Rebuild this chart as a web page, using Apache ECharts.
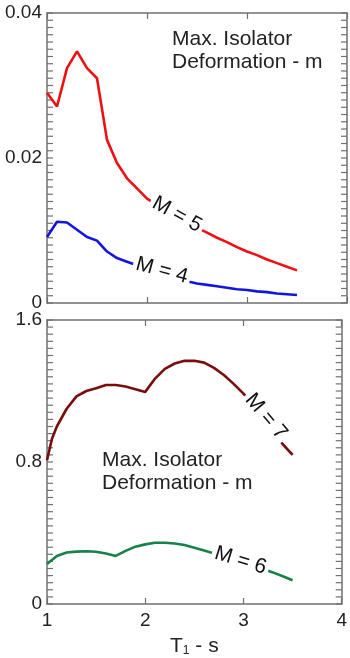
<!DOCTYPE html>
<html>
<head>
<meta charset="utf-8">
<script src="https://cdn.jsdelivr.net/npm/echarts@6/dist/echarts.min.js"></script>
<style>
html,body{margin:0;padding:0;background:#fff;}
#chart{width:350px;height:658px;}
</style>
</head>
<body>
<div id="chart"></div>
<script>
// ---- data ----
const xTicks = [1, 2, 3, 4];
const topTicks = [0, 0.02, 0.04];
const botTicks = [0, 0.8, 1.6];

const T5 = [1.0,1.1,1.2,1.3,1.4,1.5,1.6,1.7,1.8,1.9,2.0,2.1,2.2,2.3,2.4,2.5,2.6,2.7,2.8,2.9,3.0,3.1,3.2,3.3,3.4,3.5];
const m5 = [0.0290,0.0271,0.0324,0.0347,0.0324,0.0310,0.0225,0.0193,0.0172,0.0158,0.0144,0.0135,0.0126,0.0118,0.0111,0.0104,0.0097,0.0090,0.0084,0.0077,0.0071,0.0066,0.0060,0.0055,0.0050,0.0045];

const T4 = [1.0,1.1,1.2,1.3,1.4,1.5,1.6,1.7,1.8,1.9,2.0,2.1,2.2,2.3,2.4,2.5,2.6,2.7,2.8,2.9,3.0,3.1,3.2,3.3,3.4,3.5];
const m4 = [0.0091,0.0112,0.0111,0.0101,0.0091,0.0086,0.0071,0.0062,0.0057,0.0052,0.0047,0.0042,0.0037,0.0033,0.0030,0.0027,0.0025,0.0023,0.0021,0.0019,0.0018,0.0016,0.0015,0.0013,0.0012,0.0011];

const T7 = [1.0,1.05,1.1,1.2,1.3,1.4,1.5,1.6,1.7,1.8,1.9,2.0,2.1,2.2,2.3,2.4,2.5,2.6,2.7,2.8,2.9,3.0,3.1,3.2,3.3,3.4,3.5];
const m7 = [0.81,0.93,1.00,1.10,1.17,1.20,1.215,1.234,1.234,1.225,1.21,1.195,1.27,1.325,1.355,1.37,1.37,1.36,1.33,1.29,1.24,1.185,1.12,1.05,0.97,0.90,0.84];

const T6 = [1.0,1.1,1.2,1.3,1.4,1.5,1.6,1.7,1.8,1.9,2.0,2.1,2.2,2.3,2.4,2.5,2.6,2.7,2.8,2.9,3.0,3.1,3.2,3.3,3.4,3.5];
const m6 = [0.226,0.271,0.290,0.295,0.297,0.294,0.284,0.271,0.299,0.323,0.336,0.345,0.345,0.341,0.332,0.317,0.301,0.285,0.265,0.245,0.228,0.212,0.197,0.178,0.156,0.134];

const seriesNames = ['M = 5', 'M = 4', 'M = 7', 'M = 6'];
const panelTitle = 'Max. Isolator\nDeformation - m';
const xName = 'T{sub|1} - s';

// minor tick counts per panel (20 minor divisions per labelled interval)
const topMinorStep = 0.001, topMinorCount = 40;
const botMinorStep = 0.04, botMinorCount = 40;

// ---- chart ----
const FONT = '"Liberation Sans", Arial, sans-serif';
const AX = '#707070';
const pairs = (xs, ys) => xs.map((x, i) => [x, ys[i]]);
const near = (v, list, tol) => list.find(t => Math.abs(v - t) < tol);

function xAx(grid, pos, labels) {
  return {
    type: 'value', gridIndex: grid, position: pos, min: 1, max: 4, interval: 1,
    axisLine: { show: true, onZero: false, lineStyle: { color: AX, width: 1.5 } },
    axisTick: { show: true, inside: true, length: 6, lineStyle: { color: AX, width: 1.2 } },
    axisLabel: labels ? { show: true, color: '#222', fontSize: 19, fontFamily: FONT, margin: 7,
      formatter: v => xTicks.includes(v) ? String(v) : '' } : { show: false },
    splitLine: { show: false },
    name: labels ? xName : '', nameLocation: 'middle', nameGap: 32,
    nameTextStyle: { color: '#222', fontSize: 21, fontFamily: FONT,
      rich: { sub: { fontSize: 12, fontFamily: FONT, color: '#222', verticalAlign: 'bottom', padding: [9, 0, 0, 0] } } }
  };
}
function yAx(grid, pos, max, step, ticks, digits) {
  return {
    type: 'value', gridIndex: grid, position: pos, min: 0, max: max, interval: step,
    axisLine: { show: true, onZero: false, lineStyle: { color: AX, width: 1.5 } },
    axisTick: { show: false },
    axisLabel: ticks ? { show: true, color: '#222', fontSize: 19, fontFamily: FONT, margin: 5,
      formatter: v => { const t = near(v, ticks, step / 2); return t === undefined ? '' : (t === 0 ? '0' : t.toFixed(digits)); } }
      : { show: false },
    splitLine: { show: false }
  };
}
function lineSeries(name, xi, yi, xs, ys, color) {
  return { name, type: 'line', xAxisIndex: xi, yAxisIndex: yi, data: pairs(xs, ys),
    showSymbol: false, symbol: 'none', smooth: false,
    lineStyle: { color, width: 2.6 }, silent: true };
}
// inward minor ticks on both vertical frame edges, positioned by the y scale
function tickSeries(xi, yi, step, count) {
  const vals = [];
  for (let i = 0; i <= count; i++) vals.push([1, +(i * step).toFixed(6)]);
  return {
    type: 'custom', xAxisIndex: xi, yAxisIndex: yi, data: vals, silent: true, clip: false, z: 3,
    encode: { x: 0, y: 1 },
    renderItem: (params, api) => {
      const l = api.coord([1, api.value(1)]);
      const r = api.coord([4, api.value(1)]);
      const st = { stroke: AX, lineWidth: 1.2 };
      return { type: 'group', children: [
        { type: 'line', shape: { x1: l[0], y1: l[1], x2: l[0] + 6, y2: l[1] }, style: st },
        { type: 'line', shape: { x1: r[0] - 6, y1: r[1], x2: r[0], y2: r[1] }, style: st }
      ] };
    }
  };
}

const chart = echarts.init(document.getElementById('chart'), null, { renderer: 'canvas' });
chart.setOption({
  animation: false,
  backgroundColor: '#fff',
  grid: [
    { left: 47, top: 13, width: 300, height: 290 },
    { left: 47, top: 320, width: 300, height: 291 }
  ],
  xAxis: [ xAx(0, 'bottom', false), xAx(0, 'top', false), xAx(1, 'bottom', true), xAx(1, 'top', false) ],
  yAxis: [
    yAx(0, 'left', 0.04, 0.02, topTicks, 2),
    yAx(0, 'right', 0.04, 0.02, null),
    yAx(1, 'left', 1.6, 0.8, botTicks, 1),
    yAx(1, 'right', 1.6, 0.8, null)
  ],
  series: [
    tickSeries(0, 0, topMinorStep, topMinorCount),
    tickSeries(2, 2, botMinorStep, botMinorCount),
    lineSeries(seriesNames[0], 0, 0, T5, m5, '#ee1010'),
    lineSeries(seriesNames[1], 0, 0, T4, m4, '#1414e0'),
    lineSeries(seriesNames[2], 2, 2, T7, m7, '#7a0c0c'),
    lineSeries(seriesNames[3], 2, 2, T6, m6, '#17814a')
  ]
});

// line tags placed on the curves via the chart's own scales
function tag(text, finder, xs, ys, idx, deg, dx, dy) {
  const p = chart.convertToPixel(finder, [xs[idx], ys[idx]]);
  return { type: 'text', x: p[0] + dx, y: p[1] + dy, rotation: deg * Math.PI / 180, z: 100, silent: true,
    style: { text, x: 0, y: 0, align: 'center', verticalAlign: 'middle', fill: '#111',
      font: '21px ' + FONT, backgroundColor: '#fff', padding: [1, 3] } };
}
const g0 = { xAxisIndex: 0, yAxisIndex: 0 };
const g1 = { xAxisIndex: 2, yAxisIndex: 2 };
chart.setOption({
  graphic: [
    { type: 'text', left: 172, top: 28, silent: true, z: 100,
      style: { text: panelTitle, fill: '#222', font: '21px ' + FONT, lineHeight: 23 } },
    { type: 'text', left: 102, top: 449, silent: true, z: 100,
      style: { text: panelTitle, fill: '#222', font: '21px ' + FONT, lineHeight: 23 } },
    tag(seriesNames[0], g0, T5, m5, 13, -29, 0, -3),
    tag(seriesNames[1], g0, T4, m4, 11, -15, 5, -2),
    tag(seriesNames[2], g1, T7, m7, 23, -50, 3, -1),
    tag(seriesNames[3], g1, T6, m6, 20, -17, -3, -3)
  ]
});
</script>
</body>
</html>
